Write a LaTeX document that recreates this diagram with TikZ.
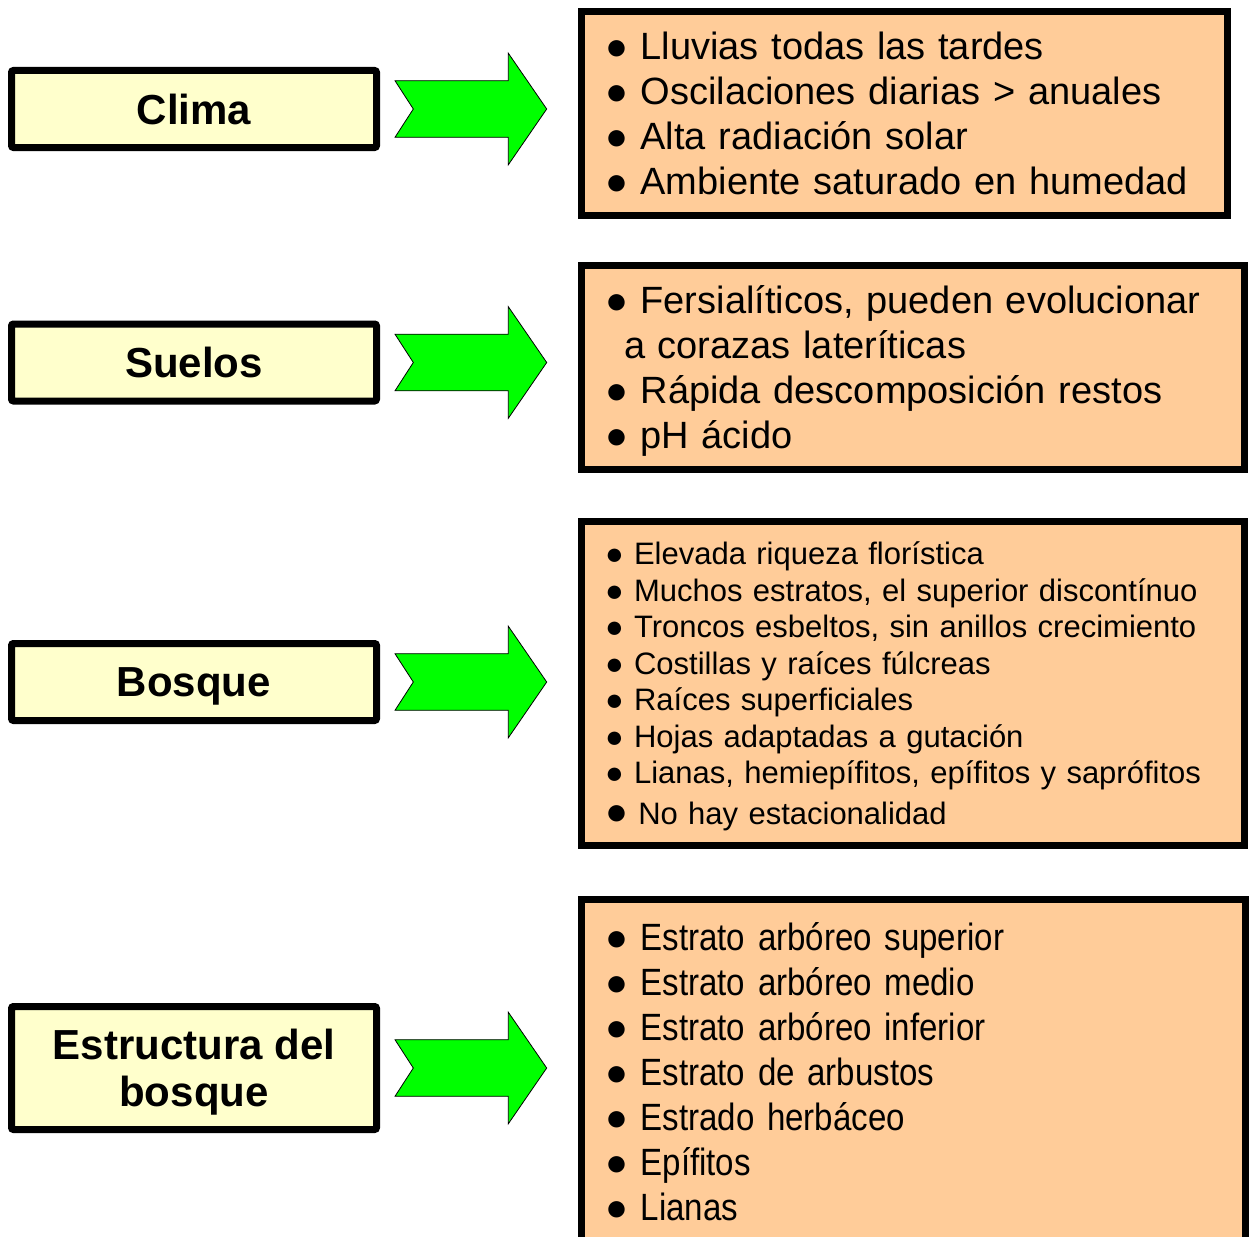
\documentclass[tikz,border=0pt]{standalone}
\usepackage{fontspec}
\setmainfont{Liberation Sans}
\newfontfamily\narrowsans[FakeStretch=0.87]{Liberation Sans}
\definecolor{lyellow}{RGB}{255,255,204}
\definecolor{lorange}{RGB}{255,204,153}
\definecolor{agreen}{RGB}{0,255,0}
\newcommand\nodepth[1]{\raisebox{0pt}[\height][0pt]{#1}}
\tikzset{
  lbox/.style={draw=black, line width=7pt, fill=lyellow, rounded corners=2pt,
    minimum width=365pt, minimum height=77pt, outer sep=0pt, align=center,
    font=\fontsize{42}{47}\selectfont\bfseries, inner sep=0pt},
  rbox/.style={draw=black, line width=7pt, fill=lorange, outer sep=0pt,
    anchor=north west, inner xsep=23.5pt, inner ysep=0pt, align=left,
    font=\fontsize{38}{45}\selectfont},
  blockarrow/.pic={
    \filldraw[fill=agreen, draw=black, line width=0.8pt]
      (18.5,-28.3) -- (131.8,-28.3) -- (131.8,-55.8) -- (170.2,0)
      -- (131.8,55.8) -- (131.8,28.3) -- (18.5,28.3) -- (36.8,0) -- cycle;
  }
}
\begin{document}
\begin{tikzpicture}[x=1pt, y=-1pt]
\useasboundingbox (0,0) rectangle (1249,1236);
\begin{scope}
\clip (0,0) rectangle (1249,1236);
% left boxes
\node[lbox] (clima) at (194,109) {Clima};
\node[lbox] (suelos) at (194,362.5) {Suelos};
\node[lbox] (bosque) at (194,682) {\nodepth{Bosque}};
\node[lbox, minimum height=123pt] (estructura) at (194,1068) {Estructura del\\\nodepth{bosque}};
% right boxes
\node[rbox, text width=599pt, minimum height=204pt] (climatxt) at (581.5,11.5)
  {● Lluvias todas las tardes\\
   ● Oscilaciones diarias > anuales\\
   ● Alta radiación solar\\
   ● Ambiente saturado en humedad};
\node[rbox, text width=615.5pt, minimum height=204pt] (suelostxt) at (581.5,265.5)
  {● Fersialíticos, pueden evolucionar\\
   \hspace*{19pt}a corazas lateríticas\\
   ● Rápida descomposición restos\\
   \nodepth{● pH ácido}};
\node[rbox, text width=615.5pt, minimum height=324pt,
      font=\fontsize{31}{36.5}\selectfont] (bosquetxt) at (581.5,521.5)
  {● Elevada riqueza florística\\
   ● Muchos estratos, el superior discontínuo\\
   ● Troncos esbeltos, sin anillos crecimiento\\
   ● Costillas y raíces fúlcreas\\
   ● Raíces superficiales\\
   ● Hojas adaptadas a gutación\\
   ● Lianas, hemiepífitos, epífitos y saprófitos\\[4.5pt]
   \nodepth{{\fontsize{38}{45}\selectfont● }No hay estacionalidad}};
\node[rbox, text width=617pt, minimum height=345pt] (estructuratxt) at (581.5,899.5)
  {● {\narrowsans Estrato arbóreo superior}\\
   ● {\narrowsans Estrato arbóreo medio}\\
   ● {\narrowsans Estrato arbóreo inferior}\\
   ● {\narrowsans Estrato de arbustos}\\
   ● {\narrowsans Estrado herbáceo}\\
   ● {\narrowsans Epífitos}\\
   ● {\narrowsans Lianas}};
% arrows
\pic at (clima.east) {blockarrow};
\pic at (suelos.east) {blockarrow};
\pic at (bosque.east) {blockarrow};
\pic at (estructura.east) {blockarrow};
\end{scope}
\end{tikzpicture}
\end{document}
